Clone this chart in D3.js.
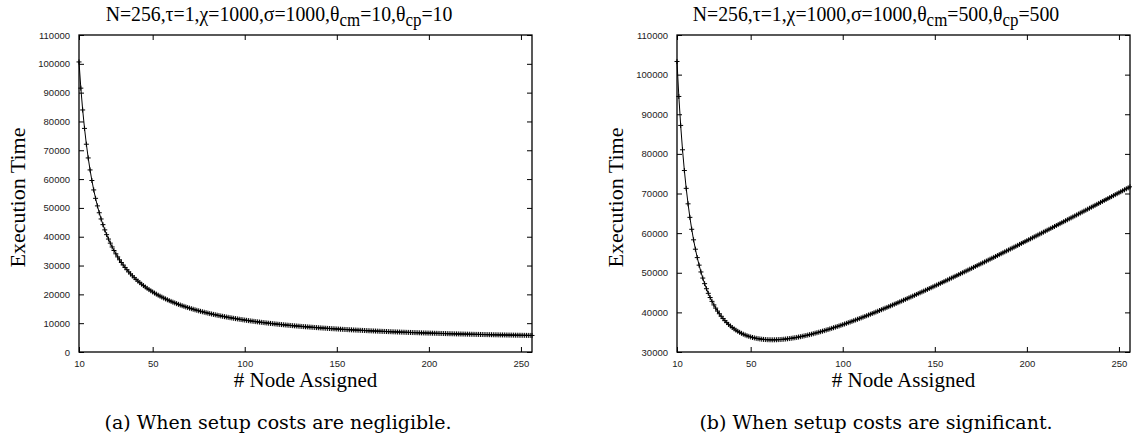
<!DOCTYPE html>
<html><head><meta charset="utf-8">
<script src="https://cdn.jsdelivr.net/npm/d3@7"></script>
<style>body{margin:0;background:#fff}svg{display:block}
.serif{font-family:"Liberation Serif","Times New Roman","DejaVu Serif",serif}
.cm{font-family:"DejaVu Serif",serif}
.sans{font-family:"Liberation Sans",Arial,Helvetica,sans-serif}
</style>
</head><body>
<svg id="c" width="1132" height="436"></svg>
<script>
// # Node Assigned (x categories, 10..256)
const nodeFirst = 10, nodeLast = 256;
const nodes = d3.range(nodeFirst, nodeLast + 1);

// (a) theta_cm = theta_cp = 10 : execution time per node count
const timeA = [
100650,91560,83990,77590,72100,67340,63180,59510,56240,53320,
50700,48320,46160,44190,42380,40720,39190,37770,36450,35220,
34080,33010,32000,31060,30180,29340,28550,27800,27100,26430,
25790,25190,24610,24060,23540,23040,22560,22100,21660,21240,
20840,20450,20080,19720,19380,19050,18730,18420,18120,17830,
17560,17290,17030,16780,16530,16300,16070,15850,15630,15420,
15220,15030,14830,14650,14470,14290,14120,13960,13800,13640,
13480,13330,13190,13050,12910,12770,12640,12510,12390,12260,
12140,12030,11910,11800,11690,11580,11480,11380,11270,11180,
11080,10990,10890,10800,10710,10630,10540,10460,10380,10300,
10220,10140,10070,9990,9920,9850,9780,9710,9640,9570,
9510,9450,9380,9320,9260,9200,9140,9080,9030,8970,
8920,8860,8810,8760,8710,8660,8610,8560,8510,8460,
8420,8370,8320,8280,8240,8190,8150,8110,8070,8030,
7990,7950,7910,7870,7830,7800,7760,7720,7690,7650,
7620,7580,7550,7520,7490,7450,7420,7390,7360,7330,
7300,7270,7240,7210,7180,7150,7130,7100,7070,7050,
7020,6990,6970,6940,6920,6890,6870,6850,6820,6800,
6780,6750,6730,6710,6690,6660,6640,6620,6600,6580,
6560,6540,6520,6500,6480,6460,6440,6430,6410,6390,
6370,6350,6340,6320,6300,6280,6270,6250,6230,6220,
6200,6190,6170,6150,6140,6120,6110,6100,6080,6070,
6050,6040,6020,6010,6000,5980,5970,5960,5940,5930,
5920,5910,5890,5880,5870,5860,5850,5830,5820,5810,
5800,5790,5780,5770,5760,5750,5740
];

// (b) theta_cm = theta_cp = 500 : execution time per node count
const timeB = [
103320,94490,87180,81030,75800,71300,67390,63980,60970,58310,
55940,53820,51920,50200,48660,47250,45970,44810,43750,42780,
41890,41080,40330,39650,39020,38440,37910,37420,36970,36560,
36180,35830,35510,35220,34960,34710,34490,34290,34110,33950,
33800,33670,33560,33450,33370,33290,33230,33180,33140,33110,
33090,33080,33070,33080,33090,33120,33140,33180,33220,33270,
33330,33390,33450,33530,33600,33680,33770,33860,33960,34060,
34160,34270,34380,34490,34610,34740,34860,34990,35120,35250,
35390,35530,35670,35820,35970,36120,36270,36420,36580,36740,
36900,37060,37230,37400,37560,37730,37910,38080,38260,38430,
38610,38790,38970,39160,39340,39530,39710,39900,40090,40280,
40470,40670,40860,41060,41250,41450,41650,41850,42050,42250,
42450,42660,42860,43070,43270,43480,43690,43890,44100,44310,
44520,44730,44950,45160,45370,45590,45800,46020,46230,46450,
46670,46890,47100,47320,47540,47760,47980,48200,48430,48650,
48870,49090,49320,49540,49770,49990,50220,50440,50670,50900,
51120,51350,51580,51810,52040,52260,52490,52720,52950,53190,
53420,53650,53880,54110,54340,54580,54810,55040,55280,55510,
55740,55980,56210,56450,56680,56920,57150,57390,57630,57860,
58100,58340,58570,58810,59050,59290,59530,59770,60000,60240,
60480,60720,60960,61200,61440,61680,61920,62160,62400,62640,
62890,63130,63370,63610,63850,64090,64340,64580,64820,65070,
65310,65550,65790,66040,66280,66530,66770,67010,67260,67500,
67750,67990,68240,68480,68730,68970,69220,69460,69710,69950,
70200,70450,70690,70940,71190,71430,71680
];

const xTickValues = [10, 50, 100, 150, 200, 250];
const yTicksA = [0,10000,20000,30000,40000,50000,60000,70000,80000,90000,100000,110000];
const yTicksB = [30000,40000,50000,60000,70000,80000,90000,100000,110000];

const titleA = {pre: "N=256,τ=1,χ=1000,σ=1000,θ", cm: "=10,θ", cp: "=10"};
const titleB = {pre: "N=256,τ=1,χ=1000,σ=1000,θ", cm: "=500,θ", cp: "=500"};
const xLabel = "# Node Assigned";
const yLabel = "Execution Time";
const captionA = "(a) When setup costs are negligible.";
const captionB = "(b) When setup costs are significant.";

const svg = d3.select("#c");
const titleScale = {value: null};

function panel(cfg) {
  const x = d3.scaleLinear().domain([nodeFirst, nodeLast]).range([cfg.x0, cfg.x1]);
  const y = d3.scaleLinear().domain(cfg.yDomain).range([352, 35]);
  const g = svg.append("g");
  const tl = 5;

  const axB = g.append("g").attr("transform", `translate(0,${y.range()[0]})`)
    .call(d3.axisBottom(x).tickValues(xTickValues).tickSizeInner(-tl).tickSizeOuter(0).tickPadding(8));
  const axT = g.append("g").attr("transform", `translate(0,${y.range()[1]})`)
    .call(d3.axisTop(x).tickValues(xTickValues).tickSizeInner(-tl).tickSizeOuter(0).tickFormat(""));
  const axL = g.append("g").attr("transform", `translate(${cfg.x0},0)`)
    .call(d3.axisLeft(y).tickValues(cfg.yTicks).tickSizeInner(-tl).tickSizeOuter(0).tickPadding(9).tickFormat(d3.format("d")));
  const axR = g.append("g").attr("transform", `translate(${cfg.x1},0)`)
    .call(d3.axisRight(y).tickValues(cfg.yTicks).tickSizeInner(-tl).tickSizeOuter(0).tickFormat(""));
  [axB, axT, axL, axR].forEach(a => {
    a.attr("font-family", null).attr("font-size", null).attr("class", "sans");
    a.select(".domain").remove();
    a.selectAll("line").attr("stroke", "#000").attr("stroke-width", 1);
    a.selectAll("text").attr("font-size", 9.5).attr("fill", "#222");
  });
  g.append("rect").attr("x", cfg.x0).attr("y", y.range()[1])
    .attr("width", cfg.x1 - cfg.x0).attr("height", y.range()[0] - y.range()[1])
    .attr("fill", "none").attr("stroke", "#000").attr("stroke-width", 1.3);

  const pts = nodes.map((n, i) => [n, cfg.data[i]]);
  g.append("path").datum(pts)
    .attr("d", d3.line().x(d => x(d[0])).y(d => y(d[1])))
    .attr("fill", "none").attr("stroke", "#000").attr("stroke-width", 1);
  g.append("g").selectAll("path").data(pts).join("path")
    .attr("transform", d => `translate(${x(d[0])},${y(d[1])})`)
    .attr("d", "M-2.5,0H2.5M0,-2.5V2.5")
    .attr("stroke", "#000").attr("stroke-width", 1).attr("fill", "none");

  // title, horizontally condensed to mimic Times-Roman proportions
  const tg = g.append("g");
  const t = tg.append("text").attr("class", "serif").attr("x", 0).attr("y", 0)
    .attr("text-anchor", "middle").attr("font-size", 21).attr("fill", "#000");
  t.append("tspan").text(cfg.title.pre);
  t.append("tspan").attr("dy", 5).attr("font-size", 18).text("cm");
  t.append("tspan").attr("dy", -5).text(cfg.title.cm);
  t.append("tspan").attr("dy", 5).attr("font-size", 18).text("cp");
  t.append("tspan").attr("dy", -5).text(cfg.title.cp);
  const w = t.node().getComputedTextLength();
  if (titleScale.value === null) titleScale.value = Math.min(1, cfg.titleWidth / w);
  tg.attr("transform", `translate(${cfg.titleX},21) scale(${titleScale.value},1)`);

  g.append("text").attr("class", "serif").attr("x", (cfg.x0 + cfg.x1) / 2).attr("y", 387)
    .attr("text-anchor", "middle").attr("font-size", 21).text(xLabel);
  g.append("text").attr("class", "serif")
    .attr("transform", `translate(${cfg.yLabelX},${(y.range()[0] + y.range()[1]) / 2 + 4}) rotate(-90)`)
    .attr("text-anchor", "middle").attr("font-size", 22).text(yLabel);
  g.append("text").attr("class", "cm").attr("x", cfg.captionX).attr("y", 429)
    .attr("text-anchor", "middle").attr("font-size", 19).text(cfg.caption);
}

panel({x0: 79, x1: 532, yDomain: [0, 110000], yTicks: yTicksA, data: timeA,
       title: titleA, titleX: 279, titleWidth: 347, yLabelX: 25, caption: captionA, captionX: 278});
panel({x0: 677, x1: 1130, yDomain: [30000, 110000], yTicks: yTicksB, data: timeB,
       title: titleB, titleX: 876, titleWidth: 347, yLabelX: 623, caption: captionB, captionX: 876});
</script>
</body></html>
